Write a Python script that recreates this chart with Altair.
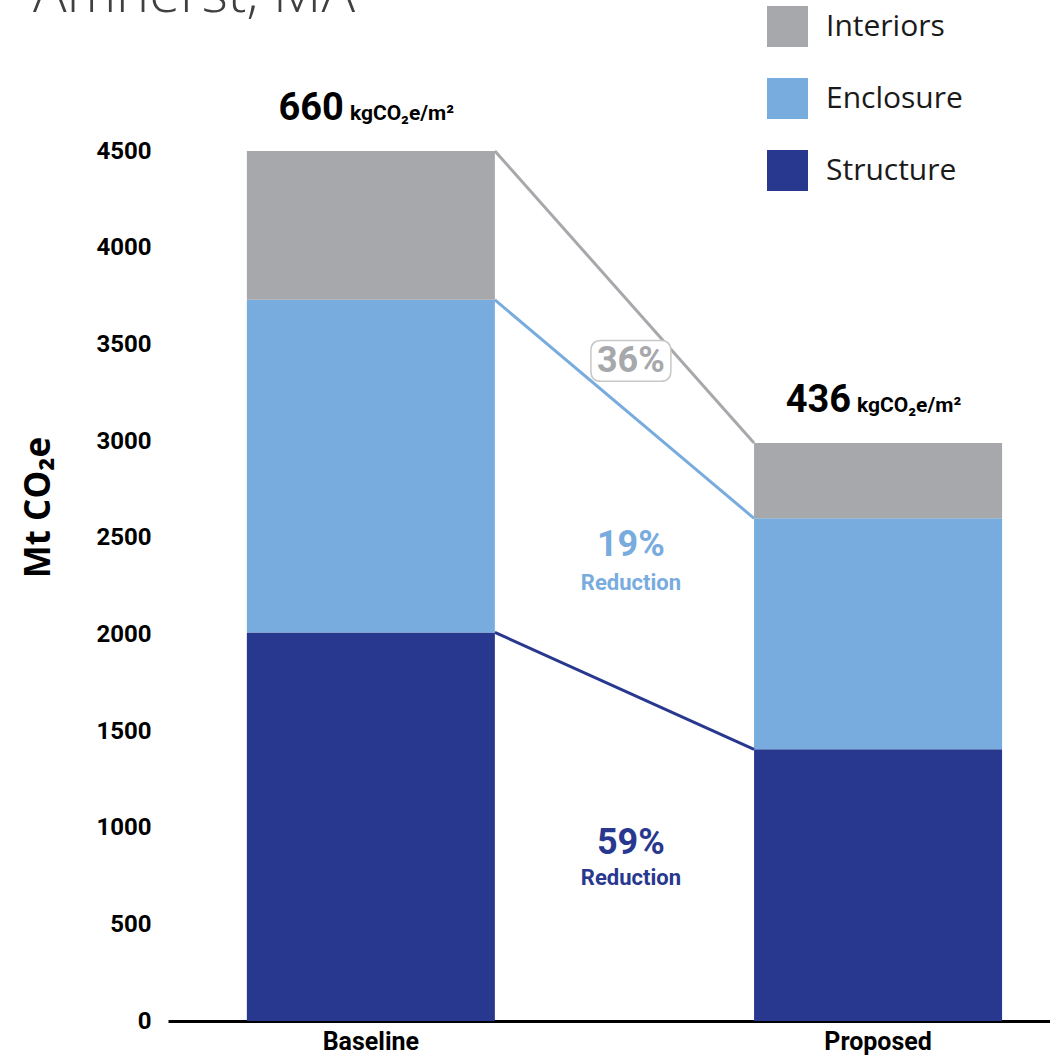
import altair as alt
import pandas as pd

# ---------------- data ----------------
TITLE = "Amherst, MA"
CATEGORIES = ["Baseline", "Proposed"]
SEGMENTS = ["Structure", "Enclosure", "Interiors"]          # bottom -> top
STRUCTURE = [2010, 1405]
ENCLOSURE = [1720, 1195]
INTERIORS = [770, 390]
INTENSITY = ["660", "436"]
UNIT = "kgCO\u2082e/m\u00b2"
PCT_TEXT = ["36%", "19%", "59%"]
PCT_SEG = ["Interiors", "Enclosure", "Structure"]
PCT_Y = [3414, 2462, 921]
RED_TEXT = ["Reduction", "Reduction"]
RED_SEG = ["Enclosure", "Structure"]
RED_Y = [2266, 740]
Y_TITLE = "Mt CO\u2082e"

LEGEND_ORDER = ["Interiors", "Enclosure", "Structure"]
COLORS = ["#a7a8ab", "#79acde", "#29388f"]

COND = "Roboto, Liberation Sans Narrow, sans-serif"

# ---------------- tables ----------------
values = {"Structure": STRUCTURE, "Enclosure": ENCLOSURE, "Interiors": INTERIORS}
rows = []
tops = {}
for i, cat in enumerate(CATEGORIES):
    base = 0
    for seg in SEGMENTS:
        v = values[seg][i]
        rows.append({"cat": cat, "seg": seg, "y0": base, "y1": base + v})
        tops[(cat, seg)] = base + v
        base += v
bars = pd.DataFrame(rows)

conn = pd.DataFrame([
    {"from": CATEGORIES[0], "to": CATEGORIES[1], "seg": seg,
     "ya": tops[(CATEGORIES[0], seg)], "yb": tops[(CATEGORIES[1], seg)]}
    for seg in SEGMENTS
])

totals = pd.DataFrame({
    "cat": CATEGORIES,
    "total": [tops[(c, SEGMENTS[-1])] for c in CATEGORIES],
    "num": INTENSITY,
    "unit": [UNIT] * len(CATEGORIES),
})

pct = pd.DataFrame({"cat": [CATEGORIES[0]] * len(PCT_TEXT), "t": PCT_TEXT, "seg": PCT_SEG, "y": PCT_Y})
red = pd.DataFrame({"cat": [CATEGORIES[0]] * len(RED_TEXT), "t": RED_TEXT, "seg": RED_SEG, "y": RED_Y})
box = pct[pct["seg"] == "Interiors"]
title_df = pd.DataFrame({"t": [TITLE]})

# ---------------- scales ----------------
xscale = alt.Scale(domain=CATEGORIES, paddingInner=0.511, paddingOuter=0.125, align=0.622)
yscale = alt.Scale(domain=[0, 4500], nice=False, zero=True)
cscale = alt.Scale(domain=LEGEND_ORDER, range=COLORS)

x_axis = alt.Axis(title=None, labelAngle=0, labelFont=COND, labelFontSize=25, labelFontWeight="bold",
                  labelColor="black", ticks=False, domainColor="black", domainWidth=3,
                  labelPadding=8, grid=False)
y_axis = alt.Axis(values=list(range(0, 4501, 500)), format="d", labelFont=COND, labelFontSize=24,
                  labelFontWeight="bold", labelColor="black", labelPadding=17, ticks=False,
                  domain=False, grid=False, title=Y_TITLE, titleFont="Open Sans", titleFontSize=35,
                  titleFontWeight="bold", titleColor="black", titleAngle=270, titleX=-130, titleY=356,
                  titleAlign="center", titleBaseline="middle")

legend = alt.Legend(
    orient="none", legendX=599, legendY=-145, title=None, symbolType="square",
    symbolSize=1681, symbolStrokeWidth=0, symbolOpacity=1, labelFont="Open Sans",
    labelFontSize=30, labelColor="#1a1a1a", rowPadding=31, labelOffset=18, padding=0,
)

bar_layer = alt.Chart(bars).mark_bar(opacity=1).encode(
    x=alt.X("cat:N", scale=xscale, axis=x_axis, sort=CATEGORIES),
    y=alt.Y("y0:Q", scale=yscale, axis=y_axis),
    y2="y1:Q",
    color=alt.Color("seg:N", scale=cscale, legend=legend),
)

conn_layer = alt.Chart(conn).mark_rule(strokeWidth=3).encode(
    x=alt.X("from:N", bandPosition=1),
    x2=alt.X2("to:N", bandPosition=0),
    y="ya:Q",
    y2="yb:Q",
    color=alt.Color("seg:N", legend=None),
)

num_layer = alt.Chart(totals).mark_text(font=COND, fontSize=38, fontWeight="bold", color="black",
                                        align="right", baseline="alphabetic", dx=-27, dy=-31).encode(
    x="cat:N", y="total:Q", text="num:N")
unit_layer = alt.Chart(totals).mark_text(font=COND, fontSize=21, fontWeight="bold", color="black",
                                         align="left", baseline="alphabetic", dx=-21, dy=-31).encode(
    x="cat:N", y="total:Q", text="unit:N")

ROUND_BOX = ("M -0.74,-0.51 L 0.74,-0.51 Q 1,-0.51 1,-0.25 L 1,0.25 Q 1,0.51 0.74,0.51 "
             "L -0.74,0.51 Q -1,0.51 -1,0.25 L -1,-0.25 Q -1,-0.51 -0.74,-0.51 Z")
box_layer = alt.Chart(box).mark_point(shape=ROUND_BOX, size=6400, filled=True, fill="white",
                                      stroke="#c8c8c8", strokeWidth=1.5, opacity=1, xOffset=136).encode(
    x=alt.X("cat:N", bandPosition=1), y="y:Q")

pct_layer = alt.Chart(pct).mark_text(font=COND, fontSize=36, fontWeight="bold", align="center",
                                     baseline="middle", dx=136).encode(
    x=alt.X("cat:N", bandPosition=1), y="y:Q", text="t:N", color=alt.Color("seg:N", legend=None))

red_layer = alt.Chart(red).mark_text(font=COND, fontSize=22, fontWeight="bold", align="center",
                                     baseline="middle", dx=136).encode(
    x=alt.X("cat:N", bandPosition=1), y="y:Q", text="t:N", color=alt.Color("seg:N", legend=None))

title_layer = alt.Chart(title_df).mark_text(font="Open Sans", fontSize=56, fontWeight=300,
                                            color="#404040", align="left", baseline="alphabetic").encode(
    x=alt.value(-135), y=alt.value(-139), text="t:N")

chart = alt.layer(
    bar_layer, conn_layer, num_layer, unit_layer, box_layer, pct_layer, red_layer, title_layer
).properties(
    width=882, height=870,
    autosize=alt.AutoSizeParams(type="none"),
    padding={"left": 168, "top": 151, "right": 0, "bottom": 34},
).configure(background="white").configure_view(stroke=None)

chart.save("out.html", embed_options={"renderer": "svg", "actions": False})
